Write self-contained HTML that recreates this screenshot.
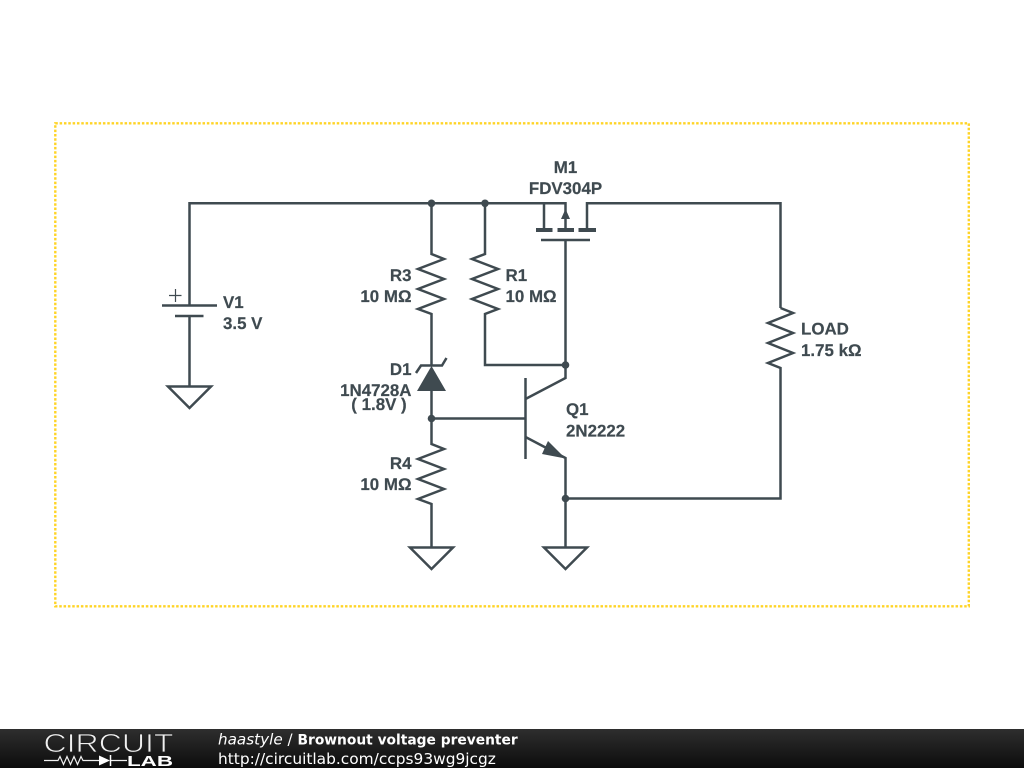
<!DOCTYPE html>
<html><head><meta charset="utf-8"><style>
html,body{margin:0;padding:0;background:#fff;width:1024px;height:768px;overflow:hidden}
svg{display:block;position:absolute;left:0;top:0}
.t{font:bold 16.9px "Liberation Sans",sans-serif;fill:#3f4a50;stroke:#3f4a50;stroke-width:.2;text-rendering:geometricPrecision}
.w{fill:none;stroke:#3f4a50;stroke-width:2.5;stroke-linejoin:miter}
</style></head><body>
<svg width="1024" height="768" viewBox="0 0 1024 768" xmlns="http://www.w3.org/2000/svg">
<defs>
<linearGradient id="g" x1="0" y1="0" x2="0" y2="1"><stop offset="0" stop-color="#2e2e2e"/><stop offset="1" stop-color="#0c0c0c"/></linearGradient>
</defs>
<rect x="55.300" y="123.300" width="913.500" height="483" fill="none" stroke="#ffd426" stroke-width="2.400" stroke-dasharray="2.500 1.830"/>
<!-- wires -->
<path class="w" d="M189.500 305V203.300H565.500V230M544 203.300V230M587 230V203.300H780.500V308"/>
<path class="w" d="M189.500 316V386"/>
<path class="w" d="M780.500 308l12.500 5l-25 10l25 10l-25 10l25 10l-25 10l12.500 5V498.500H565.500"/>
<path class="w" d="M431.500 203.300V254l12.500 5l-26 10l26 10l-26 10l26 10l-26 10l13.500 5V366"/>
<path class="w" d="M485 203.300V254l-13 5l26 10l-26 10l26 10l-26 10l26 10l-13 5V365H565.500"/>
<path class="w" d="M431.500 390V444l12.500 5l-26 10l26 10l-26 10l26 10l-26 10l13.500 5V547"/>
<path class="w" d="M431.500 418.500H525.500"/>
<path class="w" d="M565.500 240V378L525.500 399M525.500 437L565.500 458V547"/>
<path class="w" d="M525.500 378V459"/>
<!-- MOSFET -->
<path d="M536 230H552.500M557.500 230H574M578.500 230H596" fill="none" stroke="#3f4a50" stroke-width="4"/>
<path class="w" d="M541 240H590"/>
<path d="M565.500 209L570 219H561Z" fill="#3f4a50"/>
<!-- BJT arrow -->
<path d="M565.500 458.500L548 441L542 454Z" fill="#3f4a50"/>
<!-- battery -->
<path class="w" d="M162 305.500H217M175 316H203.500"/>
<path d="M169 295.500H181.500M175.500 289V302" fill="none" stroke="#3f4a50" stroke-width="1.200"/>
<!-- grounds -->
<path class="w" d="M168 386.500H211L189.500 408Z"/>
<path class="w" d="M410 547.500H453L431.500 569Z"/>
<path class="w" d="M544 547.500H587L565.500 569Z"/>
<!-- zener -->
<path d="M431.500 366L446 391H417Z" fill="#3f4a50"/>
<path class="w" d="M416 373L421 365.500H442L446.500 358"/>
<!-- junctions -->
<g fill="#3f4a50"><circle cx="431.500" cy="203.300" r="3.800"/><circle cx="485" cy="203.300" r="3.800"/><circle cx="565.500" cy="365" r="3.800"/><circle cx="431.500" cy="418.500" r="3.800"/><circle cx="565.500" cy="498.500" r="3.800"/></g>
<!-- labels -->
<g>
<text class="t" x="565.500" y="173" text-anchor="middle">M1</text>
<text class="t" x="565.500" y="194" text-anchor="middle">FDV304P</text>
<text class="t" x="411.500" y="281" text-anchor="end">R3</text>
<text class="t" x="411.500" y="302" text-anchor="end">10 MΩ</text>
<text class="t" x="505.500" y="281">R1</text>
<text class="t" x="505.500" y="302">10 MΩ</text>
<text class="t" x="223" y="308">V1</text>
<text class="t" x="223" y="329">3.5 V</text>
<text class="t" x="801" y="334.500">LOAD</text>
<text class="t" x="801" y="356">1.75 kΩ</text>
<text class="t" x="411.500" y="375" text-anchor="end">D1</text>
<text class="t" x="411.500" y="396" text-anchor="end">1N4728A</text>
<text class="t" x="379" y="410" text-anchor="middle">( 1.8V )</text>
<text class="t" x="566" y="415">Q1</text>
<text class="t" x="566" y="436.500">2N2222</text>
<text class="t" x="411.500" y="469" text-anchor="end">R4</text>
<text class="t" x="411.500" y="490" text-anchor="end">10 MΩ</text>
</g>
<!-- footer -->
<rect x="0" y="729" width="1024" height="39" fill="url(#g)"/>
<text x="43.500" y="752" font-family="Liberation Sans, sans-serif" font-size="26" fill="#f0f0f0" stroke="#222" stroke-width="0.8" textLength="130" lengthAdjust="spacingAndGlyphs">CIRCUIT</text>
<path d="M44 760.500H58l2-4 3.500 8 3.500-8 3.500 8 3.500-8 3.500 8 3.500-8 2 4H99M110 760.500H127" fill="none" stroke="#f0f0f0" stroke-width="1.200"/>
<path d="M99 755.500L110 760.500L99 765.500Z" fill="#fff"/>
<path d="M110.500 755V766" stroke="#fff" stroke-width="1.500"/>
<text x="127" y="766" font-family="Liberation Sans, sans-serif" font-weight="bold" font-size="14.500" fill="#fff" textLength="46" lengthAdjust="spacingAndGlyphs">LAB</text>
<text x="218" y="744.500" font-family="DejaVu Sans, sans-serif" font-size="15.200" fill="#fff" font-style="italic">haastyle</text>
<text x="287.500" y="744.500" font-family="DejaVu Sans, sans-serif" font-size="15" fill="#fff">/</text>
<text x="297.500" y="744.500" font-family="DejaVu Sans, sans-serif" font-size="13.800" font-weight="bold" fill="#fff">Brownout voltage preventer</text>
<text x="218" y="764" font-family="DejaVu Sans, sans-serif" font-size="15.400" fill="#fff">http://circuitlab.com/ccps93wg9jcgz</text>
</svg>
</body></html>
